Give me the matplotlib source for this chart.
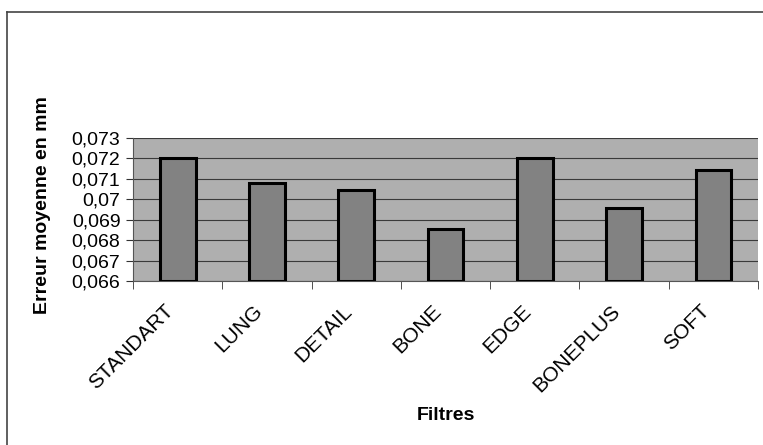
import numpy as np
import matplotlib

matplotlib.use("Agg")
import matplotlib.pyplot as plt
import matplotlib.transforms as mtransforms
from matplotlib.ticker import FuncFormatter

FILTERS = ["STANDART", "LUNG", "DETAIL", "BONE", "EDGE", "BONEPLUS", "SOFT"]
ERREUR = [0.0720, 0.07081, 0.07046, 0.06855, 0.0720, 0.06958, 0.07144]
Y_TICKS = [0.066, 0.067, 0.068, 0.069, 0.070, 0.071, 0.072, 0.073]

plt.rcParams["font.family"] = ["Liberation Sans", "DejaVu Sans"]

W, H = 763, 445
fig = plt.figure(figsize=(W / 100, H / 100), dpi=100)
ax = fig.add_axes([133 / W, 1 - 281 / H, (758 - 133) / W, (281 - 138) / H])

x = np.arange(len(FILTERS))
ax.set_facecolor("#afafaf")
ax.bar(x, np.array(ERREUR) - Y_TICKS[0], bottom=Y_TICKS[0], width=0.4,
       color="#828282", edgecolor="black", linewidth=2.2, zorder=3)

ax.set_ylim(Y_TICKS[0], Y_TICKS[-1])
ax.set_xlim(-0.5, len(FILTERS) - 0.5)
ax.set_yticks(Y_TICKS)
ax.yaxis.set_major_formatter(FuncFormatter(lambda v, p: f"{v:.3f}".rstrip("0").replace(".", ",")))
ax.grid(axis="y", color="#3a3a3a", linewidth=0.8, zorder=1)
ax.set_axisbelow(True)

ax.set_xticks(x)
ax.set_xticklabels(FILTERS, rotation=45, ha="right", va="center",
                   rotation_mode="anchor", fontsize=15)
ax.tick_params(axis="x", length=0, pad=19.5)
shift = mtransforms.ScaledTranslation(-7 / 100, 0, fig.dpi_scale_trans)
for lbl in ax.get_xticklabels():
    lbl.set_transform(lbl.get_transform() + shift)
ax.set_xticks(np.arange(len(FILTERS) + 1) - 0.5, minor=True)
ax.tick_params(axis="x", which="minor", length=6, color="#333333")
ax.tick_params(axis="y", labelsize=14, length=5, color="#333333", pad=4)

for s in ["top", "right"]:
    ax.spines[s].set_visible(False)
ax.spines["left"].set_color("#555555")
ax.spines["bottom"].set_color("#555555")

ax.set_ylabel("Erreur moyenne en mm", fontsize=14, fontweight="bold")
ax.set_xlabel("Filtres", fontsize=14, fontweight="bold")
ax.xaxis.set_label_coords((446 - 133) / (758 - 133), (281 - 415) / (281 - 138))
ax.yaxis.set_label_coords((43 - 133) / (758 - 133), (281 - 205) / (281 - 138))
ax.xaxis.label.set_va("center")
ax.yaxis.label.set_va("center")

# outer chart frame
fig.add_artist(plt.Line2D([7 / W, 7 / W], [0, 1 - 12 / H], color="#444444", linewidth=1.2))
fig.add_artist(plt.Line2D([7 / W, 1], [1 - 12 / H, 1 - 12 / H], color="#444444", linewidth=1.2))

fig.savefig("out.png", dpi=100)
